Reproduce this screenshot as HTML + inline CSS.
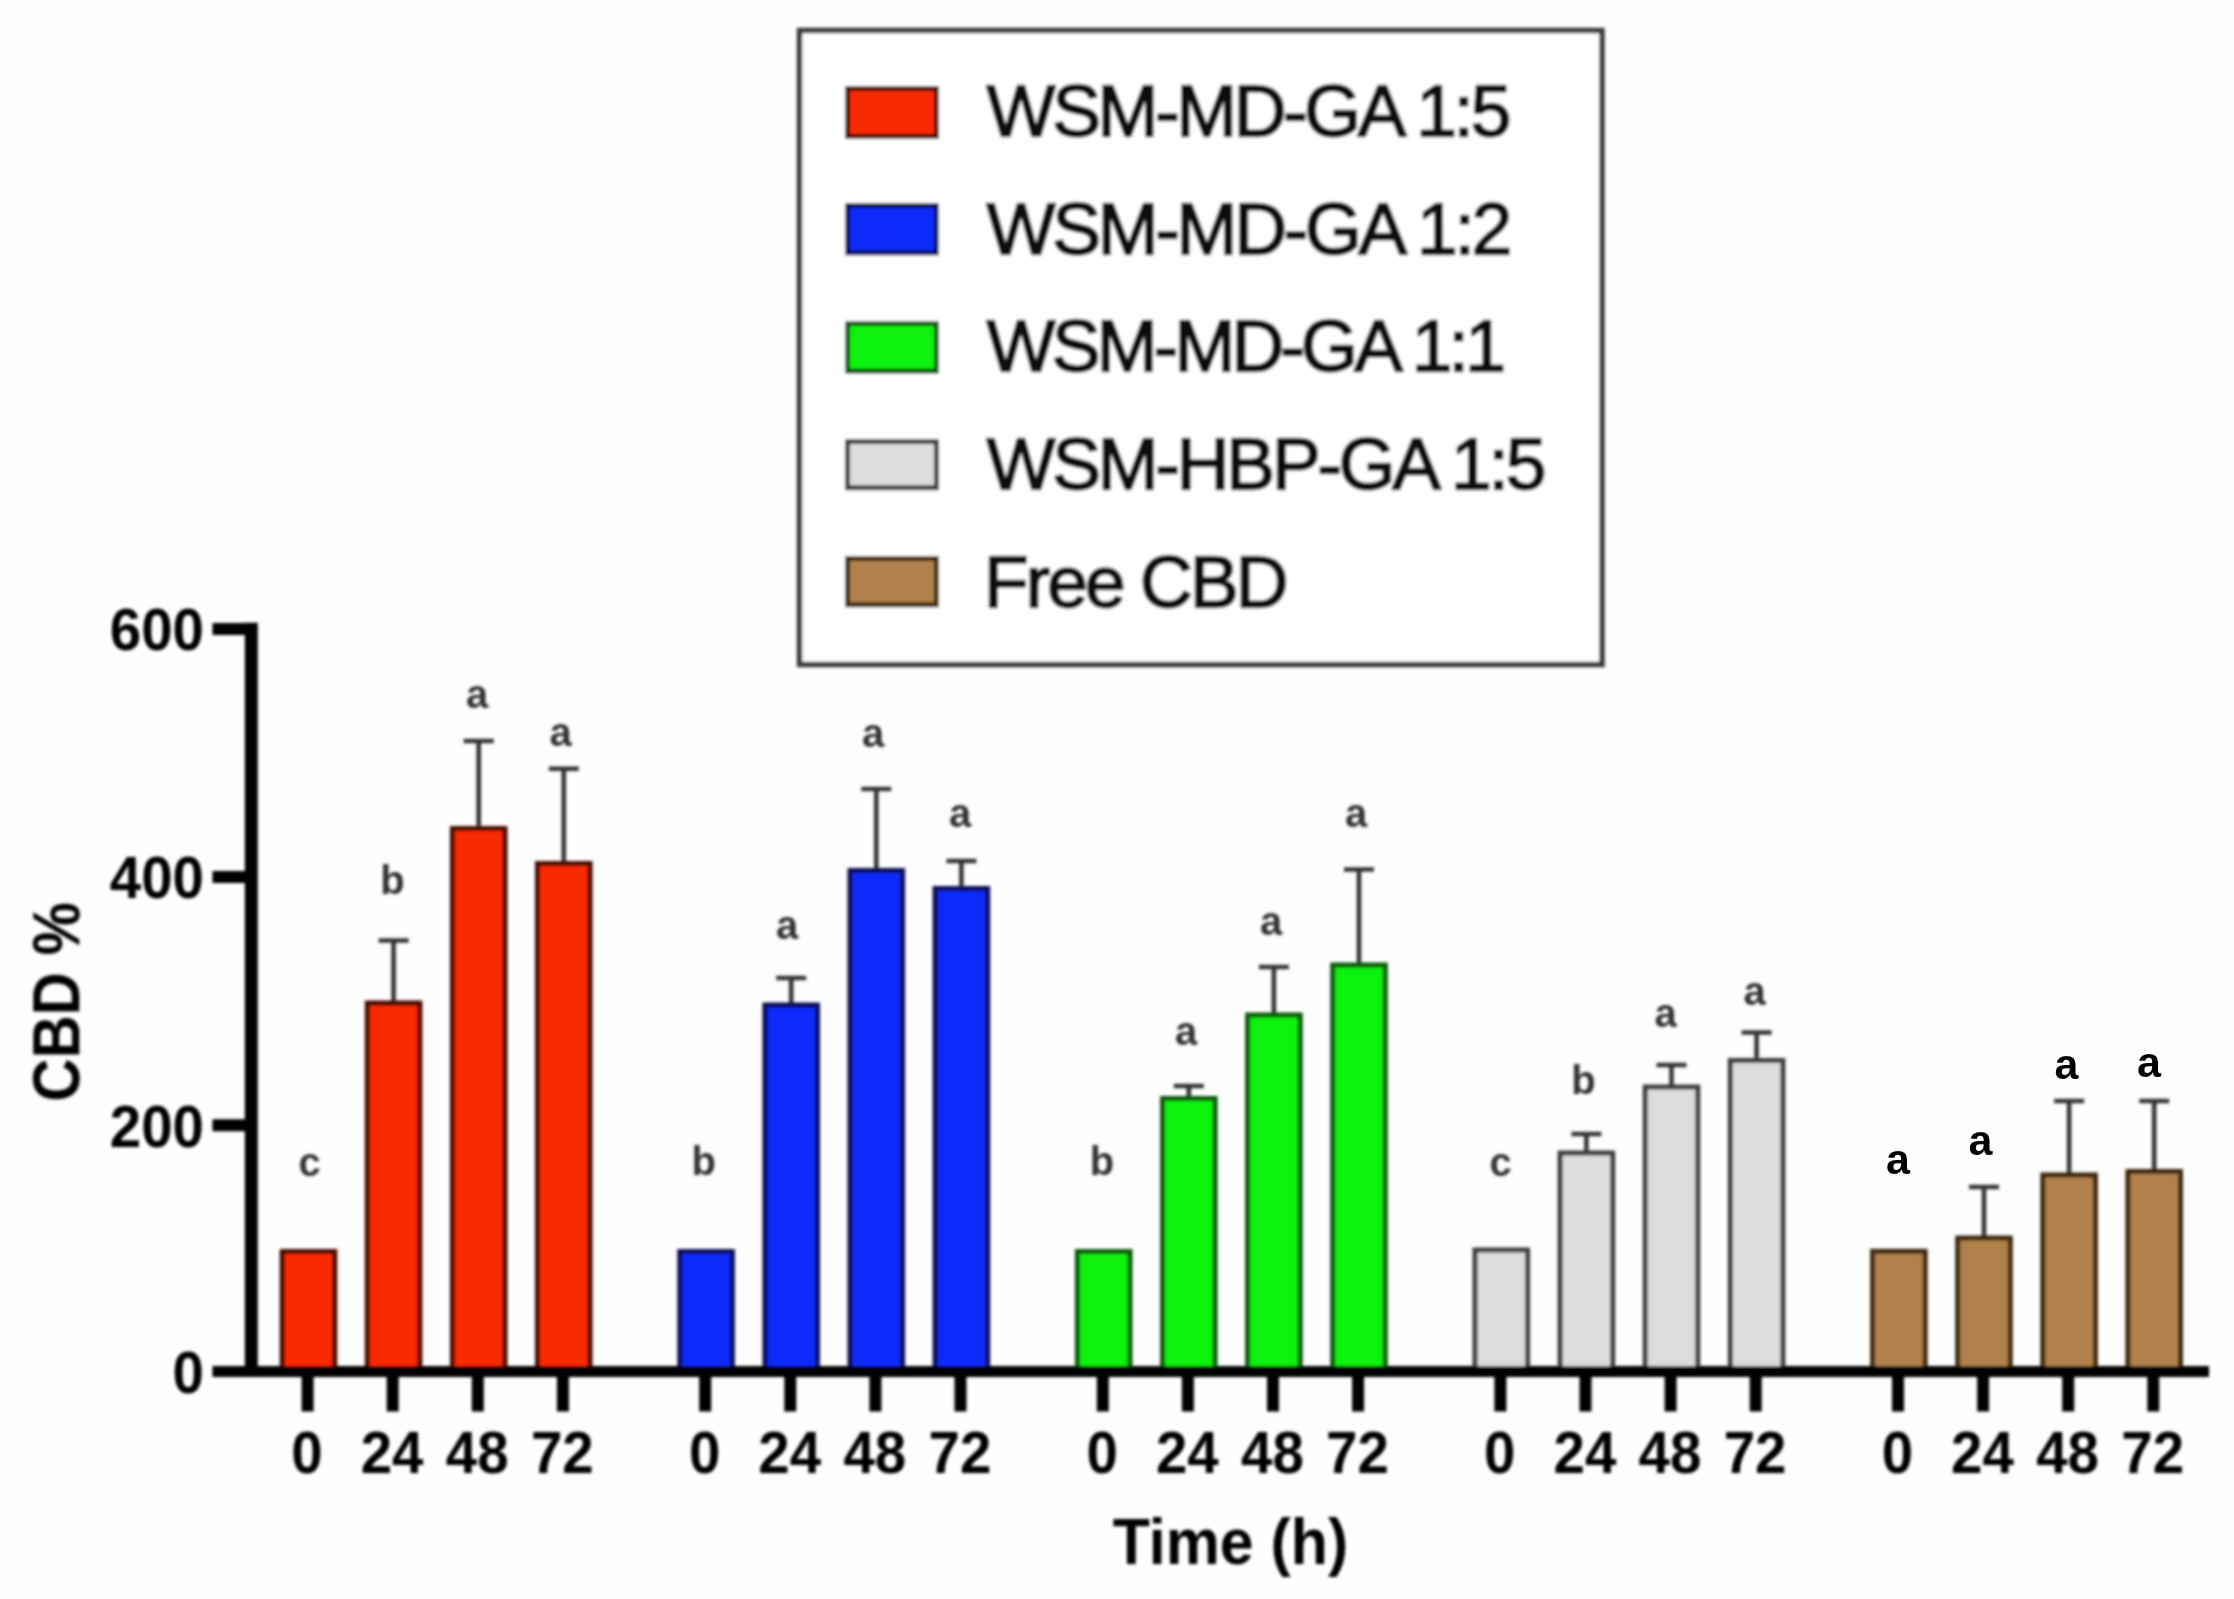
<!DOCTYPE html>
<html lang="en"><head><meta charset="utf-8"><title>CBD % over time</title>
<style>html,body{margin:0;padding:0;background:#fff}body{width:2234px;height:1599px;overflow:hidden}svg{display:block}text{font-family:"Liberation Sans",Arial,Helvetica,sans-serif}</style></head><body>
<svg width="2234" height="1599" viewBox="0 0 2234 1599">
<defs><filter id="bl" x="-5%" y="-5%" width="110%" height="110%"><feGaussianBlur stdDeviation="1.5"/></filter></defs>
<rect width="2234" height="1599" fill="#fefefe"/>
<g filter="url(#bl)">
<rect x="282.2" y="1251.5" width="52.6" height="120" fill="#FA2A05" stroke="#4a0c04" stroke-width="5"/>
<path d="M393.6 1002.5 V940.5 M378.6 940.5 H408.6" stroke="#333" stroke-width="4.6" fill="none"/>
<rect x="367.3" y="1003" width="52.6" height="368.5" fill="#FA2A05" stroke="#4a0c04" stroke-width="5"/>
<path d="M478.7 828 V741 M463.7 741 H493.7" stroke="#333" stroke-width="4.6" fill="none"/>
<rect x="452.4" y="828.5" width="52.6" height="543" fill="#FA2A05" stroke="#4a0c04" stroke-width="5"/>
<path d="M563.8 863 V768.8 M548.8 768.8 H578.8" stroke="#333" stroke-width="4.6" fill="none"/>
<rect x="537.5" y="863.5" width="52.6" height="508" fill="#FA2A05" stroke="#4a0c04" stroke-width="5"/>
<rect x="679.8" y="1251.5" width="52.6" height="120" fill="#0B2BFB" stroke="#081058" stroke-width="5"/>
<path d="M791.2 1004.5 V978 M776.2 978 H806.2" stroke="#333" stroke-width="4.6" fill="none"/>
<rect x="764.9" y="1005" width="52.6" height="366.5" fill="#0B2BFB" stroke="#081058" stroke-width="5"/>
<path d="M876.3 870 V789 M861.3 789 H891.3" stroke="#333" stroke-width="4.6" fill="none"/>
<rect x="850" y="870.5" width="52.6" height="501" fill="#0B2BFB" stroke="#081058" stroke-width="5"/>
<path d="M961.4 888 V861 M946.4 861 H976.4" stroke="#333" stroke-width="4.6" fill="none"/>
<rect x="935.1" y="888.5" width="52.6" height="483" fill="#0B2BFB" stroke="#081058" stroke-width="5"/>
<rect x="1077.4" y="1251.5" width="52.6" height="120" fill="#0FF210" stroke="#085a0a" stroke-width="5"/>
<path d="M1188.8 1098 V1086 M1173.8 1086 H1203.8" stroke="#333" stroke-width="4.6" fill="none"/>
<rect x="1162.5" y="1098.5" width="52.6" height="273" fill="#0FF210" stroke="#085a0a" stroke-width="5"/>
<path d="M1273.9 1014.5 V967 M1258.9 967 H1288.9" stroke="#333" stroke-width="4.6" fill="none"/>
<rect x="1247.6" y="1015" width="52.6" height="356.5" fill="#0FF210" stroke="#085a0a" stroke-width="5"/>
<path d="M1359 964.5 V869.5 M1344 869.5 H1374" stroke="#333" stroke-width="4.6" fill="none"/>
<rect x="1332.7" y="965" width="52.6" height="406.5" fill="#0FF210" stroke="#085a0a" stroke-width="5"/>
<rect x="1475" y="1250" width="52.6" height="121.5" fill="#DCDCDC" stroke="#3c3c3c" stroke-width="5"/>
<path d="M1586.4 1152.5 V1134 M1571.4 1134 H1601.4" stroke="#333" stroke-width="4.6" fill="none"/>
<rect x="1560.1" y="1153" width="52.6" height="218.5" fill="#DCDCDC" stroke="#3c3c3c" stroke-width="5"/>
<path d="M1671.5 1086.5 V1065 M1656.5 1065 H1686.5" stroke="#333" stroke-width="4.6" fill="none"/>
<rect x="1645.2" y="1087" width="52.6" height="284.5" fill="#DCDCDC" stroke="#3c3c3c" stroke-width="5"/>
<path d="M1756.6 1060 V1032.5 M1741.6 1032.5 H1771.6" stroke="#333" stroke-width="4.6" fill="none"/>
<rect x="1730.3" y="1060.5" width="52.6" height="311" fill="#DCDCDC" stroke="#3c3c3c" stroke-width="5"/>
<rect x="1872.6" y="1251.3" width="52.6" height="120.2" fill="#B0814B" stroke="#3d2810" stroke-width="5"/>
<path d="M1984 1237.5 V1187 M1969 1187 H1999" stroke="#333" stroke-width="4.6" fill="none"/>
<rect x="1957.7" y="1238" width="52.6" height="133.5" fill="#B0814B" stroke="#3d2810" stroke-width="5"/>
<path d="M2069.1 1174.5 V1101 M2054.1 1101 H2084.1" stroke="#333" stroke-width="4.6" fill="none"/>
<rect x="2042.8" y="1175" width="52.6" height="196.5" fill="#B0814B" stroke="#3d2810" stroke-width="5"/>
<path d="M2154.2 1171 V1101 M2139.2 1101 H2169.2" stroke="#333" stroke-width="4.6" fill="none"/>
<rect x="2127.9" y="1171.5" width="52.6" height="200" fill="#B0814B" stroke="#3d2810" stroke-width="5"/>
<g stroke="#000" stroke-width="12" fill="none">
<path d="M251.3 622.7 V1377" stroke-width="13"/>
<path d="M212.5 1371.5 H2209" stroke-width="11"/>
<path d="M212.5 629 H251"/>
<path d="M212.5 877 H251"/>
<path d="M212.5 1125.3 H251"/>
<path d="M307.6 1371 V1411.5"/>
<path d="M392.7 1371 V1411.5"/>
<path d="M477.8 1371 V1411.5"/>
<path d="M562.9 1371 V1411.5"/>
<path d="M705.2 1371 V1411.5"/>
<path d="M790.3 1371 V1411.5"/>
<path d="M875.4 1371 V1411.5"/>
<path d="M960.5 1371 V1411.5"/>
<path d="M1102.8 1371 V1411.5"/>
<path d="M1187.9 1371 V1411.5"/>
<path d="M1273 1371 V1411.5"/>
<path d="M1358.1 1371 V1411.5"/>
<path d="M1500.4 1371 V1411.5"/>
<path d="M1585.5 1371 V1411.5"/>
<path d="M1670.6 1371 V1411.5"/>
<path d="M1755.7 1371 V1411.5"/>
<path d="M1898 1371 V1411.5"/>
<path d="M1983.1 1371 V1411.5"/>
<path d="M2068.2 1371 V1411.5"/>
<path d="M2153.3 1371 V1411.5"/>
</g>
<g font-weight="bold" font-size="58.5" fill="#000" text-anchor="end">
<text transform="translate(204 650.2) scale(0.965 1)">600</text>
<text transform="translate(204 898.2) scale(0.965 1)">400</text>
<text transform="translate(204 1146.5) scale(0.965 1)">200</text>
<text transform="translate(204 1392.7) scale(0.965 1)">0</text>
</g>
<g font-weight="bold" font-size="58.5" fill="#000" text-anchor="middle">
<text transform="translate(307 1472.6) scale(0.965 1)">0</text>
<text transform="translate(392.1 1472.6) scale(0.965 1)">24</text>
<text transform="translate(477.2 1472.6) scale(0.965 1)">48</text>
<text transform="translate(562.3 1472.6) scale(0.965 1)">72</text>
<text transform="translate(704.6 1472.6) scale(0.965 1)">0</text>
<text transform="translate(789.7 1472.6) scale(0.965 1)">24</text>
<text transform="translate(874.8 1472.6) scale(0.965 1)">48</text>
<text transform="translate(959.9 1472.6) scale(0.965 1)">72</text>
<text transform="translate(1102.2 1472.6) scale(0.965 1)">0</text>
<text transform="translate(1187.3 1472.6) scale(0.965 1)">24</text>
<text transform="translate(1272.4 1472.6) scale(0.965 1)">48</text>
<text transform="translate(1357.5 1472.6) scale(0.965 1)">72</text>
<text transform="translate(1499.8 1472.6) scale(0.965 1)">0</text>
<text transform="translate(1584.9 1472.6) scale(0.965 1)">24</text>
<text transform="translate(1670 1472.6) scale(0.965 1)">48</text>
<text transform="translate(1755.1 1472.6) scale(0.965 1)">72</text>
<text transform="translate(1897.4 1472.6) scale(0.965 1)">0</text>
<text transform="translate(1982.5 1472.6) scale(0.965 1)">24</text>
<text transform="translate(2067.6 1472.6) scale(0.965 1)">48</text>
<text transform="translate(2152.7 1472.6) scale(0.965 1)">72</text>
</g>
<text transform="translate(1230.5 1563.8) scale(0.932 1)" font-weight="bold" font-size="65.3" text-anchor="middle" fill="#000">Time (h)</text>
<text transform="translate(79.3 1002) rotate(-90) scale(0.9 1)" font-weight="bold" font-size="66.5" text-anchor="middle" fill="#000">CBD %</text>
<g font-size="40" fill="#333" text-anchor="middle" font-weight="bold">
<text x="309.5" y="1175.5">c</text>
<text x="392.5" y="894">b</text>
<text x="477" y="708">a</text>
<text x="560.5" y="746">a</text>
<text x="703.7" y="1175">b</text>
<text x="787" y="938.5">a</text>
<text x="873" y="747">a</text>
<text x="960" y="827">a</text>
<text x="1102" y="1174.7">b</text>
<text x="1186" y="1045">a</text>
<text x="1271" y="934.5">a</text>
<text x="1356" y="827">a</text>
<text x="1500.5" y="1175.5">c</text>
<text x="1583.5" y="1094">b</text>
<text x="1665.5" y="1027">a</text>
<text x="1754.5" y="1004.5">a</text>
</g>
<rect x="799.5" y="30.5" width="802.5" height="634" fill="#fff" stroke="#3a3a3a" stroke-width="5.5"/>
<rect x="847.5" y="88.5" width="89" height="48" fill="#FA2A05" stroke="#4a0c04" stroke-width="5"/>
<rect x="847.5" y="205.5" width="89" height="47.4" fill="#0B2BFB" stroke="#081058" stroke-width="5"/>
<rect x="847.5" y="323.5" width="89" height="47.6" fill="#0FF210" stroke="#085a0a" stroke-width="5"/>
<rect x="847.5" y="441.5" width="89" height="46.3" fill="#DCDCDC" stroke="#3c3c3c" stroke-width="5"/>
<rect x="847.5" y="558.5" width="89" height="46.3" fill="#B0814B" stroke="#3d2810" stroke-width="5"/>
<g font-size="73" fill="#0a0a0a" stroke="#0a0a0a" stroke-width="2.4" stroke-linejoin="round">
<text x="986.50" y="136" letter-spacing="-3.250">WSM-MD-GA 1:5</text>
<text x="986.50" y="253.67" letter-spacing="-3.167">WSM-MD-GA 1:2</text>
<text x="986.50" y="371.34" letter-spacing="-3.708">WSM-MD-GA 1:1</text>
<text x="986.50" y="489.01" letter-spacing="-3.115">WSM-HBP-GA 1:5</text>
<text x="984.00" y="606.68" letter-spacing="-2.857">Free CBD</text>
</g>
</g>
<g font-size="43" fill="#000" text-anchor="middle" font-weight="bold">
<text x="1898" y="1174">a</text>
<text x="1980.5" y="1154.5">a</text>
<text x="2066.5" y="1079">a</text>
<text x="2149" y="1077">a</text>
</g>
</svg></body></html>
